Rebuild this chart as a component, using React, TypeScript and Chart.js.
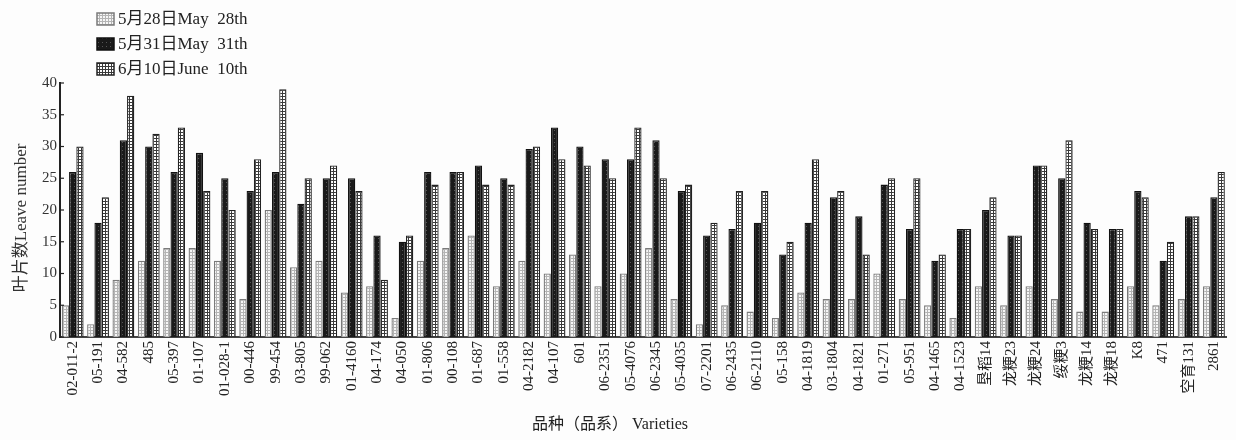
import React, { useEffect, useRef } from "react";
import { Chart, registerables } from "chart.js";

Chart.register(...registerables);

const categories = [
  "02-011-2", "05-191", "04-582", "485", "05-397", "01-107", "01-028-1", "00-446", "99-454", "03-805",
  "99-062", "01-4160", "04-174", "04-050", "01-806", "00-108", "01-687", "01-558", "04-2182", "04-107",
  "601", "06-2351", "05-4076", "06-2345", "05-4035", "07-2201", "06-2435", "06-2110", "05-158", "04-1819",
  "03-1804", "04-1821", "01-271", "05-951", "04-1465", "04-1523", "垦稻14", "龙粳23", "龙粳24", "绥粳3",
  "龙粳14", "龙粳18", "K8", "471", "空育131", "2861",
];

const may28 = [5, 2, 9, 12, 14, 14, 12, 6, 20, 11, 12, 7, 8, 3, 12, 14, 16, 8, 12, 10, 13, 8, 10, 14, 6, 2, 5, 4, 3, 7, 6, 6, 10, 6, 5, 3, 8, 5, 8, 6, 4, 4, 8, 5, 6, 8];
const may31 = [26, 18, 31, 30, 26, 29, 25, 23, 26, 21, 25, 25, 16, 15, 26, 26, 27, 25, 29.6, 33, 30, 28, 28, 31, 23, 16, 17, 18, 13, 18, 22, 19, 24, 17, 12, 17, 20, 16, 27, 25, 18, 17, 23, 12, 19, 22];
const jun10 = [30, 22, 38, 32, 33, 23, 20, 28, 39, 25, 27, 23, 9, 16, 24, 26, 24, 24, 30, 28, 27, 25, 33, 25, 24, 18, 23, 23, 15, 28, 23, 13, 25, 25, 13, 17, 22, 16, 27, 31, 17, 17, 22, 15, 19, 26];

const seriesLabels = ["5月28日May  28th", "5月31日May  31th", "6月10日June  10th"];
const yTicks = [0, 5, 10, 15, 20, 25, 30, 35, 40];
const xTitle = "品种（品系） Varieties";
const yTitle = "叶片数Leave number";

const FONT = '"Liberation Serif", "Noto Sans CJK SC", serif';

function makePattern(kind: number): CanvasPattern | string {
  const c = document.createElement("canvas");
  const s = kind === 1 ? 4 : 3;
  c.width = s;
  c.height = s;
  const g = c.getContext("2d");
  if (!g) return "#888";
  if (kind === 0) {
    g.fillStyle = "#f6f6f6";
    g.fillRect(0, 0, s, s);
    g.fillStyle = "#b4b4b4";
    g.fillRect(0, 0, s, 1);
    g.fillRect(0, 0, 1, s);
  } else if (kind === 1) {
    g.fillStyle = "#1a1a1a";
    g.fillRect(0, 0, s, s);
    g.fillStyle = "#555555";
    g.fillRect(2, 2, 1, 1);
  } else {
    g.fillStyle = "#ffffff";
    g.fillRect(0, 0, s, s);
    g.fillStyle = "#3a3a3a";
    g.fillRect(0, 0, s, 1);
    g.fillRect(0, 0, 1, s);
  }
  const p = g.createPattern(c, "repeat");
  return p || "#888";
}

export default function App() {
  const ref = useRef<HTMLCanvasElement | null>(null);

  useEffect(() => {
    document.body.style.margin = "0";
    document.body.style.background = "#fdfdfd";
    const canvas = ref.current;
    if (!canvas) return;
    const patterns = [makePattern(0), makePattern(1), makePattern(2)];
    const borders = ["#7a7a7a", "#111111", "#222222"];

    const legendPlugin = {
      id: "customLegend",
      afterDraw(chart: any) {
        const ctx = chart.ctx;
        ctx.save();
        const x0 = 97;
        const rows = [19, 44, 69];
        rows.forEach((y, i) => {
          ctx.fillStyle = patterns[i];
          ctx.fillRect(x0, y - 6, 17, 12);
          ctx.strokeStyle = borders[i];
          ctx.lineWidth = 1.5;
          ctx.strokeRect(x0, y - 6, 17, 12);
          ctx.fillStyle = "#222";
          ctx.font = "17px " + FONT;
          ctx.textBaseline = "middle";
          ctx.textAlign = "left";
          ctx.fillText(seriesLabels[i], x0 + 21, y + 1);
        });
        // x axis title
        ctx.font = "16px " + FONT;
        ctx.textAlign = "center";
        ctx.textBaseline = "middle";
        ctx.fillStyle = "#222";
        ctx.fillText(xTitle, 610, 425);
        // y axis title
        ctx.save();
        ctx.translate(22, 218);
        ctx.rotate(-Math.PI / 2);
        ctx.font = "17px " + FONT;
        ctx.fillStyle = "#333";
        ctx.fillText(yTitle, 0, 0);
        ctx.restore();
        // inward y ticks
        const ys = chart.scales.y;
        const left = chart.chartArea.left;
        ctx.strokeStyle = "#222";
        ctx.lineWidth = 1.2;
        yTicks.forEach((v) => {
          const py = ys.getPixelForValue(v);
          ctx.beginPath();
          ctx.moveTo(left, py);
          ctx.lineTo(left + 4, py);
          ctx.stroke();
        });
        ctx.restore();
      },
    };

    const chart = new Chart(canvas, {
      type: "bar",
      data: {
        labels: categories,
        datasets: [may28, may31, jun10].map((d, i) => ({
          label: seriesLabels[i],
          data: d,
          backgroundColor: patterns[i] as any,
          borderColor: borders[i],
          borderWidth: 1.3,
          categoryPercentage: 0.86,
          barPercentage: 1.0,
        })),
      },
      options: {
        animation: false,
        responsive: false,
        maintainAspectRatio: false,
        layout: { padding: { top: 83, right: 6, left: 0, bottom: 0 } },
        plugins: {
          legend: { display: false },
          tooltip: { enabled: false },
        },
        scales: {
          x: {
            offset: true,
            grid: { display: false, drawTicks: false },
            border: { display: true, color: "#444", width: 2 },
            ticks: {
              autoSkip: false,
              maxRotation: 90,
              minRotation: 90,
              padding: 4,
              color: "#222",
              font: { family: FONT, size: 15 },
            },
            afterFit(scale: any) {
              scale.height = 103;
            },
          },
          y: {
            min: 0,
            max: 40,
            afterBuildTicks(scale: any) {
              scale.ticks = yTicks.map((v) => ({ value: v }));
            },
            grid: { display: false, drawTicks: false },
            border: { display: true, color: "#222", width: 2 },
            ticks: {
              padding: 3,
              color: "#333",
              font: { family: FONT, size: 15 },
            },
            afterFit(scale: any) {
              scale.width = 60;
            },
          },
        },
      },
      plugins: [legendPlugin],
    });

    return () => {
      chart.destroy();
    };
  }, []);

  return (
    <div style={{ width: 1236, height: 440 }}>
      <canvas ref={ref} width={1236} height={440} style={{ display: "block" }} />
    </div>
  );
}
